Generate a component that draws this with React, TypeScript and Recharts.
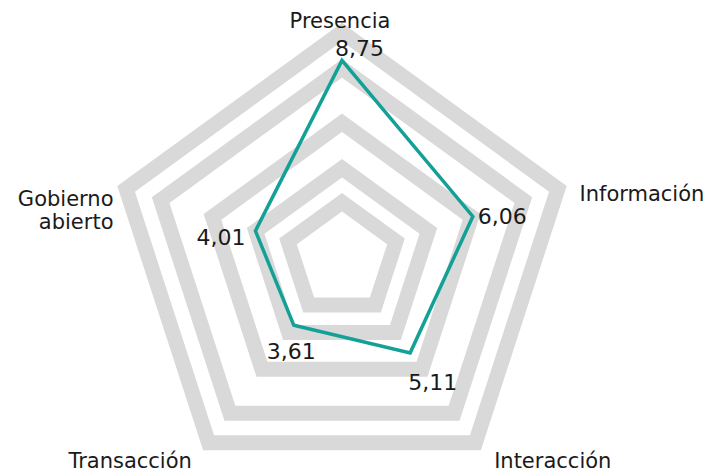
import { RadarChart, Radar, PolarGrid, PolarAngleAxis, PolarRadiusAxis, LabelList } from "recharts";

const categories = ["Presencia", "Información", "Interacción", "Transacción", "Gobierno abierto"];
const scores = [8.75, 6.06, 5.11, 3.61, 4.01];
const gridLevels = [2.5, 4, 6, 8.4, 10];

const chartData = categories.map((name, i) => ({ name, value: scores[i] }));

const FONT = "'DejaVu Sans', sans-serif";

// offsets of the axis names from the tick anchor point
const tickLayout = [
  { dx: -2, dy: 4, anchor: "middle" },
  { dx: 14, dy: 15, anchor: "start" },
  { dx: 14, dy: 19, anchor: "start" },
  { dx: -12, dy: 19, anchor: "end" },
  { dx: -5, dy: 20, anchor: "end" },
];

// offsets of the value labels from their vertex
const valueLayout = [
  { dx: -7, dy: -4, anchor: "start" },
  { dx: 5, dy: 8, anchor: "start" },
  { dx: -2, dy: 37, anchor: "start" },
  { dx: -27, dy: 34, anchor: "start" },
  { dx: -10, dy: 14, anchor: "end" },
];

function AxisTick(props: any) {
  const { x, y, payload, index } = props;
  const l = tickLayout[index] ?? { dx: 0, dy: 0, anchor: "middle" };
  const lines = String(payload.value).split(" ");
  const multi = lines.length > 1 && index === 4;
  return (
    <text x={x + l.dx} y={y + l.dy} textAnchor={l.anchor} fontSize={21} fill="#1a1a1a" fontFamily={FONT}>
      {multi
        ? lines.map((t, i) => (
            <tspan key={t} x={x + l.dx} dy={i === 0 ? 0 : 23}>
              {t}
            </tspan>
          ))
        : payload.value}
    </text>
  );
}

function ValueLabel(props: any) {
  const { x, y, value, index } = props;
  const l = valueLayout[index];
  return (
    <text x={x + l.dx} y={y + l.dy} textAnchor={l.anchor} fontSize={22} fill="#1a1a1a" fontFamily={FONT}>
      {Number(value).toFixed(2).replace(".", ",")}
    </text>
  );
}

export default function App() {
  return (
    <div style={{ position: "absolute", left: 0, top: 0, background: "#fff" }}>
      <RadarChart width={707} height={472} data={chartData} cx={342} cy={259} outerRadius={227}>
        <PolarGrid gridType="polygon" radialLines={false} stroke="#d9d9d9" strokeWidth={15} fill="none" />
        <PolarAngleAxis dataKey="name" axisLine={false} tickLine={false} tick={<AxisTick />} />
        <PolarRadiusAxis domain={[0, 10]} ticks={gridLevels as any} tick={false} axisLine={false} />
        <Radar dataKey="value" stroke="#13a096" strokeWidth={3.5} fill="none" isAnimationActive={false}>
          <LabelList dataKey="value" content={<ValueLabel />} />
        </Radar>
      </RadarChart>
    </div>
  );
}
